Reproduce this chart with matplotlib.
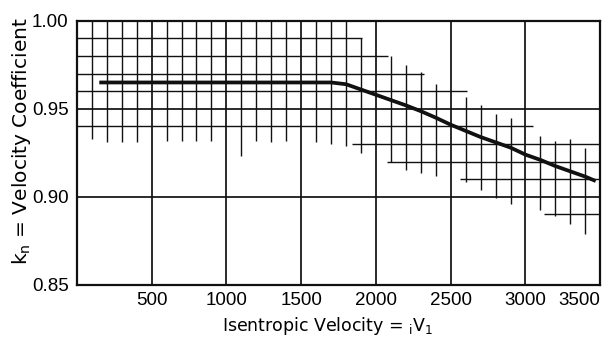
import matplotlib
matplotlib.use("Agg")
import matplotlib.pyplot as plt

# velocity coefficient curve
velocity = [150, 1700, 1800, 1900, 2000, 2100, 2200, 2300, 2400, 2500,
            2600, 2700, 2800, 2900, 3000, 3100, 3200, 3300, 3400, 3470]
k_n = [0.965, 0.965, 0.964, 0.961, 0.958, 0.955, 0.952, 0.9487, 0.945, 0.941,
       0.9375, 0.934, 0.931, 0.928, 0.924, 0.921, 0.9175, 0.9145, 0.9115, 0.909]

# scatter band drawn as a hand-ruled crosshatch
band_h_level = [0.99, 0.98, 0.97, 0.96, 0.94, 0.93, 0.92, 0.91, 0.89]
band_h_start = [0, 0, 0, 0, 0, 1840, 2075, 2565, 3125]
band_h_end = [1910, 2080, 2320, 2610, 3050, 3500, 3500, 3500, 3500]

band_v_pos = [100, 200, 300, 400, 600, 700, 800, 900, 1100, 1200, 1300, 1400,
              1600, 1700, 1800, 1900, 2100, 2200, 2300, 2400, 2600, 2700, 2800,
              2900, 3100, 3200, 3300, 3400]
band_v_low = [0.933, 0.931, 0.931, 0.931, 0.932, 0.932, 0.932, 0.932, 0.923,
              0.932, 0.931, 0.932, 0.931, 0.930, 0.929, 0.925, 0.920, 0.9155,
              0.9138, 0.912, 0.9085, 0.904, 0.8996, 0.896, 0.8924, 0.889,
              0.8845, 0.879]
band_v_high = [1.0, 1.0, 1.0, 1.0, 1.0, 1.0, 1.0, 1.0, 1.0, 1.0, 1.0, 1.0,
               1.0, 1.0, 1.0, 0.99, 0.98, 0.975, 0.971, 0.964, 0.957, 0.952,
               0.947, 0.945, 0.9345, 0.932, 0.933, 0.928]

x_ticks = [500, 1000, 1500, 2000, 2500, 3000, 3500]
y_ticks = [0.85, 0.90, 0.95, 1.00]

ink = "#111111"

fig = plt.figure(figsize=(6.1, 3.42), dpi=100)
ax = fig.add_axes([0.126, 0.167, 0.858, 0.772])

ax.hlines(band_h_level, band_h_start, band_h_end, color=ink, lw=1.0)
ax.vlines(band_v_pos, band_v_low, band_v_high, color=ink, lw=1.0)

for xv in x_ticks[:-1]:
    ax.axvline(xv, color=ink, lw=1.25)
for yv in y_ticks[1:-1]:
    ax.axhline(yv, color=ink, lw=1.25)

ax.plot(velocity, k_n, color=ink, lw=2.7, solid_capstyle="butt")

ax.set_xlim(0, 3500)
ax.set_ylim(0.85, 1.00)
ax.set_xticks(x_ticks)
ax.set_yticks(y_ticks)
ax.set_yticklabels([f"{v:.2f}" for v in y_ticks])
ax.tick_params(length=0, labelsize=13.5)
ax.tick_params(axis="x", pad=5)
ax.tick_params(axis="y", pad=6)
for lab in ax.get_xticklabels() + ax.get_yticklabels():
    lab.set_family(["Liberation Sans", "DejaVu Sans"])
ax.get_xticklabels()[-1].set_ha("right")
for s in ax.spines.values():
    s.set_linewidth(1.6)
    s.set_color(ink)

ax.set_xlabel(r"Isentropic Velocity = ${}_{\mathrm{i}}\mathrm{V}_{1}$", fontsize=12.5)
ax.xaxis.set_label_coords(0.48, -0.115)
ax.set_ylabel(r"k$_\mathrm{n}$ = Velocity Coefficient", fontsize=14.5)
ax.yaxis.set_label_coords(-0.083, 0.545)

fig.savefig("out.png", dpi=100)
